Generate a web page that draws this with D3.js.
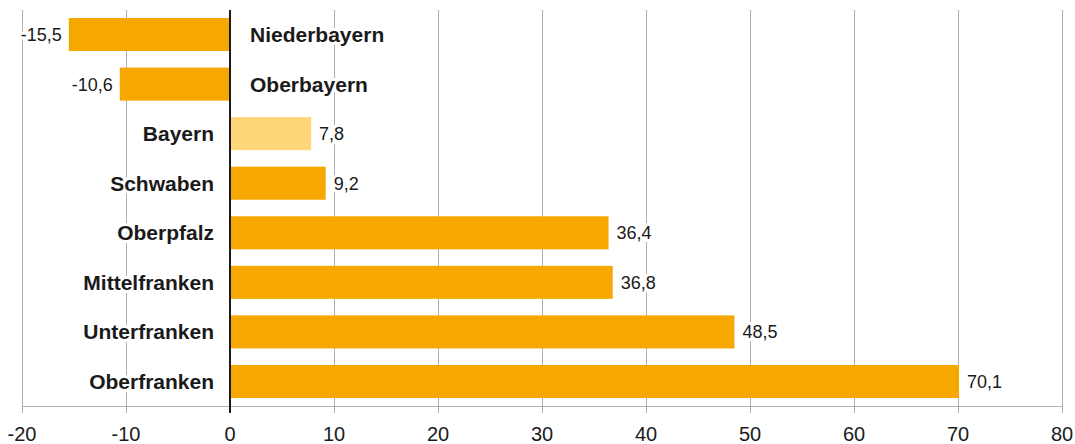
<!DOCTYPE html>
<html>
<head>
<meta charset="utf-8">
<script src="https://d3js.org/d3.v7.min.js"></script>
<style>
  body { margin: 0; background: #fff; }
  text { font-family: "Liberation Sans", Arial, Helvetica, sans-serif; fill: #1a1a1a; }
</style>
</head>
<body>
<div id="chart"></div>
<script>
// Veränderung nach Regierungsbezirk
const regions = ["Niederbayern", "Oberbayern", "Bayern", "Schwaben", "Oberpfalz",
                 "Mittelfranken", "Unterfranken", "Oberfranken"];
const values = [-15.5, -10.6, 7.8, 9.2, 36.4, 36.8, 48.5, 70.1];
const ticks = [-20, -10, 0, 10, 20, 30, 40, 50, 60, 70, 80];

const width = 1075, height = 444;

const x = d3.scaleLinear().domain([-20, 80]).range([22, 1062]);
const y = d3.scaleBand().domain(regions).range([18, 398]).paddingInner(1/3).paddingOuter(0);

const svg = d3.select("#chart").append("svg")
    .attr("width", width).attr("height", height);

// grid lines
svg.append("g")
  .selectAll("line")
  .data(ticks.filter(t => t !== 0))
  .join("line")
    .attr("x1", d => Math.round(x(d)) + 0.5).attr("x2", d => Math.round(x(d)) + 0.5)
    .attr("y1", 10).attr("y2", 413)
    .attr("stroke", "#b0b0b0").attr("stroke-width", 1);

// bottom axis line
svg.append("line")
    .attr("x1", x(-20)).attr("x2", x(80))
    .attr("y1", 406.5).attr("y2", 406.5)
    .attr("stroke", "#b0b0b0");

// tick labels
svg.append("g")
  .selectAll("text")
  .data(ticks)
  .join("text")
    .attr("x", d => x(d)).attr("y", 441)
    .attr("text-anchor", "middle")
    .style("font-size", "20px")
    .text(d => d);

// bars
svg.append("g")
  .selectAll("rect")
  .data(regions)
  .join("rect")
    .attr("x", (d, i) => x(Math.min(0, values[i])))
    .attr("width", (d, i) => Math.abs(x(values[i]) - x(0)))
    .attr("y", d => y(d))
    .attr("height", y.bandwidth())
    .attr("fill", d => d === "Bayern" ? "#ffd679" : "#f6a800");

// value labels with white background
const fmt = v => String(v).replace(".", ",");
svg.append("g")
  .selectAll("text")
  .data(regions)
  .join("text")
    .attr("x", (d, i) => values[i] < 0 ? x(values[i]) - 7 : x(values[i]) + 8)
    .attr("y", d => y(d) + y.bandwidth() / 2)
    .attr("dy", "0.36em")
    .attr("text-anchor", (d, i) => values[i] < 0 ? "end" : "start")
    .style("font-size", "18px")
    .style("stroke", "#fff").style("stroke-width", 6).style("paint-order", "stroke")
    .text((d, i) => fmt(values[i]));

// category labels
svg.append("g")
  .selectAll("text")
  .data(regions)
  .join("text")
    .attr("x", (d, i) => values[i] < 0 ? x(0) + 20 : x(0) - 16)
    .attr("y", d => y(d) + y.bandwidth() / 2)
    .attr("dy", "0.36em")
    .attr("text-anchor", (d, i) => values[i] < 0 ? "start" : "end")
    .style("font-size", "21px")
    .style("font-weight", "bold")
    .style("stroke", "#fff").style("stroke-width", 6).style("paint-order", "stroke")
    .text(d => d);

// zero line
svg.append("line")
    .attr("x1", x(0)).attr("x2", x(0))
    .attr("y1", 10).attr("y2", 413)
    .attr("stroke", "#1a1a1a").attr("stroke-width", 2);
</script>
</body>
</html>
